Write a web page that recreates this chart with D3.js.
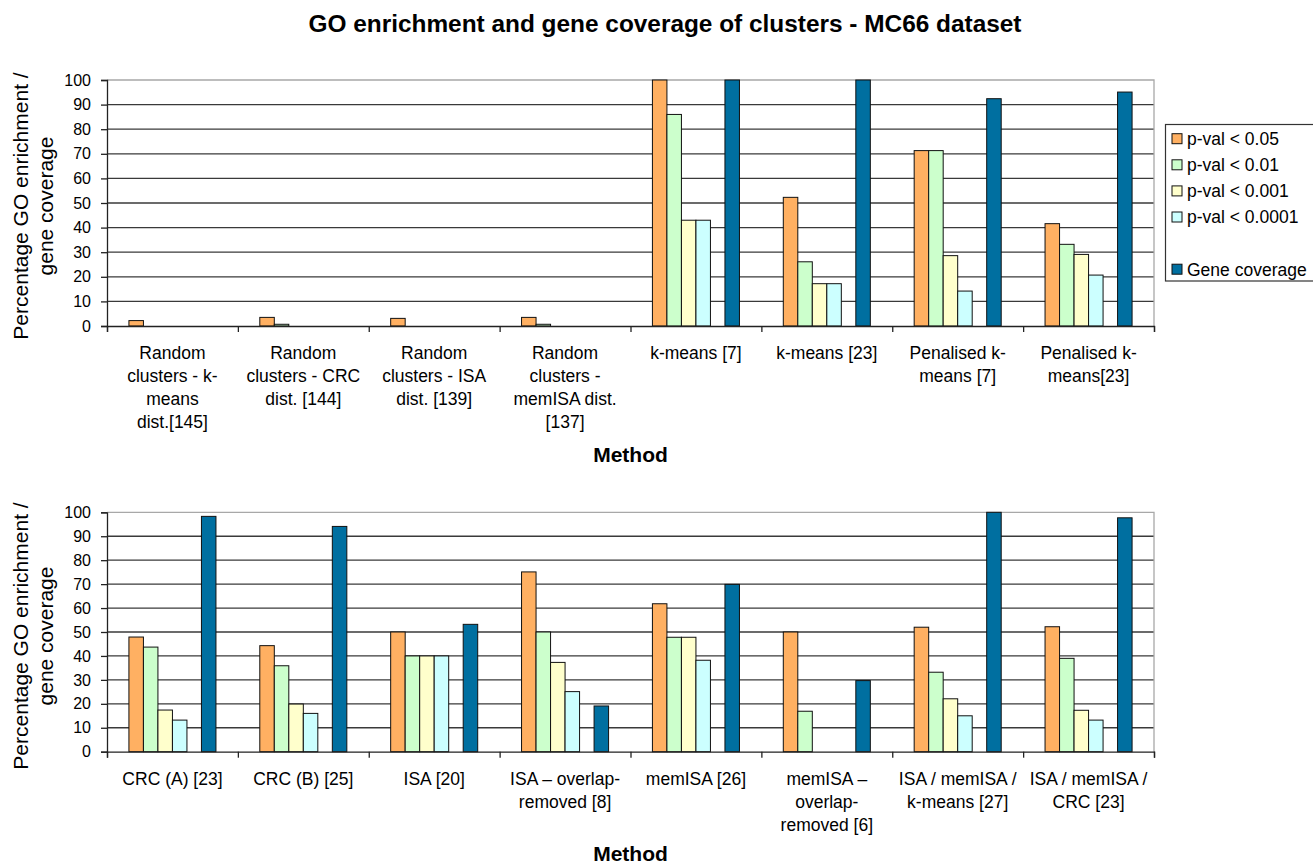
<!DOCTYPE html>
<html>
<head>
<meta charset="utf-8">
<script src="https://cdn.jsdelivr.net/npm/d3@7"></script>
<style>
  html, body { margin: 0; padding: 0; background: #fff; }
  svg { display: block; font-family: "Liberation Sans", Arial, sans-serif; }
</style>
</head>
<body>
<svg id="chart" width="1313" height="865"></svg>
<script>
// ---------- DATA ----------
const seriesNames = ["p-val < 0.05", "p-val < 0.01", "p-val < 0.001", "p-val < 0.0001", "", "Gene coverage"];
const seriesColors = ["#FFB062", "#CCFFCC", "#FFFFCC", "#CCFFFF", "none", "#006FA0"];

const topCategories = [
  ["Random", "clusters - k-", "means", "dist.[145]"],
  ["Random", "clusters - CRC", "dist. [144]"],
  ["Random", "clusters - ISA", "dist. [139]"],
  ["Random", "clusters -", "memISA dist.", "[137]"],
  ["k-means [7]"],
  ["k-means [23]"],
  ["Penalised k-", "means [7]"],
  ["Penalised k-", "means[23]"]
];
const topP05      = [2.2, 3.5, 3.1, 3.5, 100, 52.3, 71.3, 41.6];
const topP01      = [0, 0.7, 0, 0.7, 86, 26.1, 71.3, 33.2];
const topP001     = [0, 0, 0, 0, 43, 17.2, 28.6, 29.1];
const topP0001    = [0, 0, 0, 0, 43, 17.2, 14.2, 20.7];
const topCoverage = [0, 0, 0, 0, 100, 100, 92.4, 95.1];

const bottomCategories = [
  ["CRC (A) [23]"],
  ["CRC (B) [25]"],
  ["ISA [20]"],
  ["ISA \u2013 overlap-", "removed [8]"],
  ["memISA [26]"],
  ["memISA \u2013", "overlap-", "removed [6]"],
  ["ISA / memISA /", "k-means [27]"],
  ["ISA / memISA /", "CRC [23]"]
];
const bottomP05      = [47.9, 44.3, 50, 75.1, 61.8, 50, 52.0, 52.2];
const bottomP01      = [43.7, 35.9, 40, 50, 47.8, 16.9, 33.2, 39.0];
const bottomP001     = [17.4, 19.9, 40, 37.3, 47.8, 0, 22.1, 17.3];
const bottomP0001    = [13.2, 16.0, 40, 25.1, 38.2, 0, 15.0, 13.2];
const bottomCoverage = [98.3, 94.1, 53.2, 19.1, 69.9, 29.7, 100, 97.7];

const yTicks = [0, 10, 20, 30, 40, 50, 60, 70, 80, 90, 100];
const titleText = "GO enrichment and gene coverage of clusters - MC66 dataset";
const yLabelLines = ["Percentage GO enrichment /", "gene coverage"];
const xLabelText = "Method";

// ---------- DRAW ----------
const svg = d3.select("#chart");
const plotLeft = 107, plotRight = 1154;

svg.append("text")
  .attr("x", 665).attr("y", 31.5)
  .attr("text-anchor", "middle")
  .attr("font-size", 24.4).attr("font-weight", "bold")
  .attr("fill", "#000")
  .text(titleText);

function drawPanel(cfg) {
  const g = svg.append("g");
  const nCat = cfg.categories.length;
  const idx = d3.range(nCat);
  const x0 = d3.scaleBand().domain(idx).range([plotLeft, plotRight])
    .paddingInner(0.335).paddingOuter(0.1675);
  const x1 = d3.scaleBand().domain(d3.range(seriesNames.length)).range([0, x0.bandwidth()]);
  const y = d3.scaleLinear().domain([0, 100]).range([cfg.bottom, cfg.top]);

  // gridlines
  g.append("g").selectAll("line")
    .data(yTicks.filter(t => t > 0 && t < 100))
    .join("line")
    .attr("x1", plotLeft).attr("x2", plotRight)
    .attr("y1", d => y(d)).attr("y2", d => y(d))
    .attr("stroke", "#3a3a3a").attr("stroke-width", 1.3);

  // plot border (top & right, light gray)
  g.append("path")
    .attr("d", `M${plotLeft},${y(100)}H${plotRight}V${y(0)}`)
    .attr("fill", "none").attr("stroke", "#a8a8a8").attr("stroke-width", 1.3);

  // bars
  const seriesData = cfg.series;
  seriesData.forEach((vals, s) => {
    if (!vals) return;
    g.append("g").selectAll("rect")
      .data(vals.map((v, i) => ({ v, i })))
      .join("rect")
      .filter(d => d.v > 0)
      .attr("x", d => x0(d.i) + x1(s))
      .attr("width", x1.bandwidth())
      .attr("y", d => y(d.v))
      .attr("height", d => y(0) - y(d.v))
      .attr("fill", seriesColors[s])
      .attr("stroke", "#111").attr("stroke-width", 1);
  });

  // y axis
  const yAxis = d3.axisLeft(y).tickValues(yTicks).tickSize(6).tickPadding(10);
  const ya = g.append("g").attr("transform", `translate(${plotLeft},0)`).call(yAxis);
  ya.select(".domain").attr("stroke", "#222").attr("stroke-width", 1.3);
  ya.selectAll(".tick line").attr("stroke", "#222").attr("stroke-width", 1.3);
  ya.selectAll(".tick text").attr("font-size", 16).attr("fill", "#000")
    .attr("font-family", "'Liberation Sans', Arial, sans-serif");

  // x axis (category boundaries as ticks)
  const xBound = d3.scaleLinear().domain([0, nCat]).range([plotLeft, plotRight]);
  const xAxis = d3.axisBottom(xBound).tickValues(d3.range(nCat + 1)).tickSize(6).tickFormat("");
  const xa = g.append("g").attr("transform", `translate(0,${y(0)})`).call(xAxis);
  xa.select(".domain").attr("stroke", "#222").attr("stroke-width", 1.3);
  xa.selectAll(".tick line").attr("stroke", "#222").attr("stroke-width", 1.3);

  // category labels
  const lab = g.append("g").selectAll("text")
    .data(cfg.categories.map((lines, i) => ({ lines, i })))
    .join("text")
    .attr("text-anchor", "middle")
    .attr("font-size", 17.5).attr("fill", "#000")
    .attr("x", d => x0(d.i) + x0.bandwidth() / 2)
    .attr("y", cfg.labelY);
  lab.selectAll("tspan")
    .data(d => d.lines.map((t, k) => ({ t, k, cx: x0(d.i) + x0.bandwidth() / 2 })))
    .join("tspan")
    .attr("x", d => d.cx)
    .attr("dy", d => d.k === 0 ? 0 : 23)
    .text(d => d.t);

  // x axis title
  g.append("text")
    .attr("x", (plotLeft + plotRight) / 2).attr("y", cfg.methodY)
    .attr("text-anchor", "middle")
    .attr("font-size", 21).attr("font-weight", "bold").attr("fill", "#000")
    .text(xLabelText);

  // y axis title
  const cy = cfg.yLabelCenter;
  const yl = g.append("text")
    .attr("transform", `translate(28,${cy}) rotate(-90)`)
    .attr("text-anchor", "middle")
    .attr("font-size", 21).attr("fill", "#000");
  yl.selectAll("tspan").data(yLabelLines).join("tspan")
    .attr("x", 0).attr("dy", (d, k) => k === 0 ? 0 : 25)
    .text(d => d);
}

drawPanel({
  categories: topCategories,
  series: [topP05, topP01, topP001, topP0001, null, topCoverage],
  top: 80, bottom: 326,
  labelY: 359, methodY: 462, yLabelCenter: 206
});

drawPanel({
  categories: bottomCategories,
  series: [bottomP05, bottomP01, bottomP001, bottomP0001, null, bottomCoverage],
  top: 512.3, bottom: 751.7,
  labelY: 785, methodY: 861, yLabelCenter: 636
});

// legend (top panel)
const lg = svg.append("g");
lg.append("rect")
  .attr("x", 1165.5).attr("y", 124.5).attr("width", 170).attr("height", 156.5)
  .attr("fill", "#fff").attr("stroke", "#333").attr("stroke-width", 1.2);
const legItems = lg.selectAll("g.item")
  .data(seriesNames.map((n, i) => ({ n, i })))
  .join("g").attr("class", "item")
  .attr("transform", d => `translate(1172,${138.7 + 26.1 * d.i})`);
legItems.filter(d => d.n !== "").append("rect")
  .attr("x", 0).attr("y", -5).attr("width", 10).attr("height", 10)
  .attr("fill", d => seriesColors[d.i]).attr("stroke", "#111").attr("stroke-width", 1);
legItems.filter(d => d.n !== "").append("text")
  .attr("x", 15).attr("y", 0).attr("dy", "0.36em")
  .attr("font-size", 17.5).attr("fill", "#000")
  .text(d => d.n);
</script>
</body>
</html>
